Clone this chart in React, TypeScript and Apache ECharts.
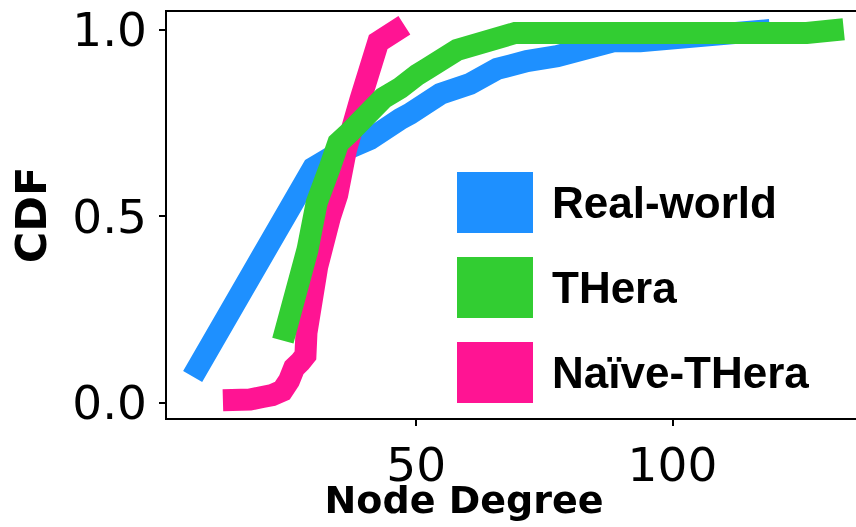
import React, { useEffect, useRef } from "react";
import * as echarts from "echarts";

// Node degree (x) and CDF (y)
const realWorldX = [6.4, 29.9, 35.2, 41.0, 46.9, 48.8, 54.7, 60.5, 65.8, 71.6, 77.5, 88.4, 93.7, 119.0];
const realWorldY = [0.071, 0.629, 0.672, 0.706, 0.76, 0.774, 0.827, 0.854, 0.894, 0.915, 0.928, 0.968, 0.968, 0.998];

const theraX = [24.0, 28.8, 30.6, 33.2, 34.8, 37.1, 43.6, 46.9, 50.2, 52.1, 58.0, 69.3, 126.2, 133.4];
const theraY = [0.167, 0.41, 0.536, 0.632, 0.696, 0.725, 0.816, 0.843, 0.878, 0.894, 0.945, 0.99, 0.99, 1.0];

const naiveX = [12.3, 17.6, 20.0, 21.9, 23.9, 25.2, 26.2, 27.4, 28.4, 28.6, 30.7, 33.2, 34.6, 36.3, 39.1, 42.6, 47.7];
const naiveY = [0.007, 0.009, 0.016, 0.021, 0.033, 0.06, 0.094, 0.11, 0.127, 0.188, 0.365, 0.498, 0.557, 0.677, 0.811, 0.966, 1.011];

const seriesNames = ["Real-world", "THera", "Naïve-THera"];
const seriesColors = ["#1E90FF", "#32CD32", "#FF1493"];

const xTicks = [50, 100];
const yTicks = [0, 0.5, 1.0];

const zip = (xs: number[], ys: number[]) => xs.map((x, i) => [x, ys[i]]);

export default function App() {
  const ref = useRef<HTMLDivElement>(null);
  useEffect(() => {
    if (!ref.current) return;
    const chart = echarts.init(ref.current, null, { renderer: "svg" });
    const datasets = [zip(realWorldX, realWorldY), zip(theraX, theraY), zip(naiveX, naiveY)];
    const zs = [1, 3, 2];
    chart.setOption({
      animation: false,
      grid: {
        left: 166,
        right: -20,
        top: 11,
        bottom: 108,
        outerBoundsMode: "none",
        containLabel: false,
        show: true,
        borderColor: "#000",
        borderWidth: 2,
        backgroundColor: "transparent",
      },
      legend: {
        orient: "vertical",
        left: 457,
        top: 172,
        padding: 0,
        itemWidth: 76,
        itemHeight: 61,
        itemGap: 24,
        icon: "rect",
        selectedMode: false,
        itemStyle: { borderWidth: 0 },
        textStyle: {
          fontSize: 44,
          fontWeight: "bold",
          fontFamily: "Liberation Sans",
          color: "#000",
          padding: [0, 0, 0, 14],
        },
        data: seriesNames,
      },
      xAxis: {
        type: "value",
        min: 1.2,
        max: 139.7,
        name: "Node Degree",
        nameLocation: "middle",
        nameGap: 67,
        nameMoveOverlap: false,
        nameTextStyle: {
          fontSize: 38,
          lineHeight: 28,
          fontWeight: "bold",
          fontFamily: "DejaVu Sans",
          color: "#000",
          padding: [0, 114, 0, 0],
        },
        axisLine: { show: true, onZero: false, lineStyle: { color: "#000", width: 2 } },
        axisTick: { show: true, length: 7, lineStyle: { color: "#000", width: 2 }, customValues: xTicks },
        axisLabel: {
          customValues: xTicks,
          fontSize: 47,
          lineHeight: 40,
          fontFamily: "DejaVu Sans",
          color: "#000",
          margin: 25,
        },
        splitLine: { show: false },
      },
      yAxis: {
        type: "value",
        min: -0.043,
        max: 1.049,
        name: "CDF",
        nameLocation: "middle",
        nameGap: 114,
        nameMoveOverlap: false,
        nameTextStyle: {
          fontSize: 43,
          fontWeight: "bold",
          fontFamily: "DejaVu Sans",
          color: "#000",
        },
        axisLine: { show: true, onZero: false, lineStyle: { color: "#000", width: 2 } },
        axisTick: { show: true, length: 7, lineStyle: { color: "#000", width: 2 }, customValues: yTicks },
        axisLabel: {
          customValues: yTicks,
          fontSize: 47,
          fontFamily: "DejaVu Sans",
          color: "#000",
          margin: 19,
          formatter: (v: number) => v.toFixed(1),
        },
        splitLine: { show: false },
      },
      series: seriesNames.map((name, i) => ({
        name,
        type: "line",
        data: datasets[i],
        showSymbol: false,
        symbol: "none",
        z: zs[i],
        color: seriesColors[i],
        itemStyle: { color: seriesColors[i] },
        lineStyle: { color: seriesColors[i], width: 22, join: "miter", cap: "butt" },
      })),
    });
    return () => chart.dispose();
  }, []);
  return <div ref={ref} style={{ position: "fixed", left: 0, top: 0, width: 856, height: 527 }} />;
}
